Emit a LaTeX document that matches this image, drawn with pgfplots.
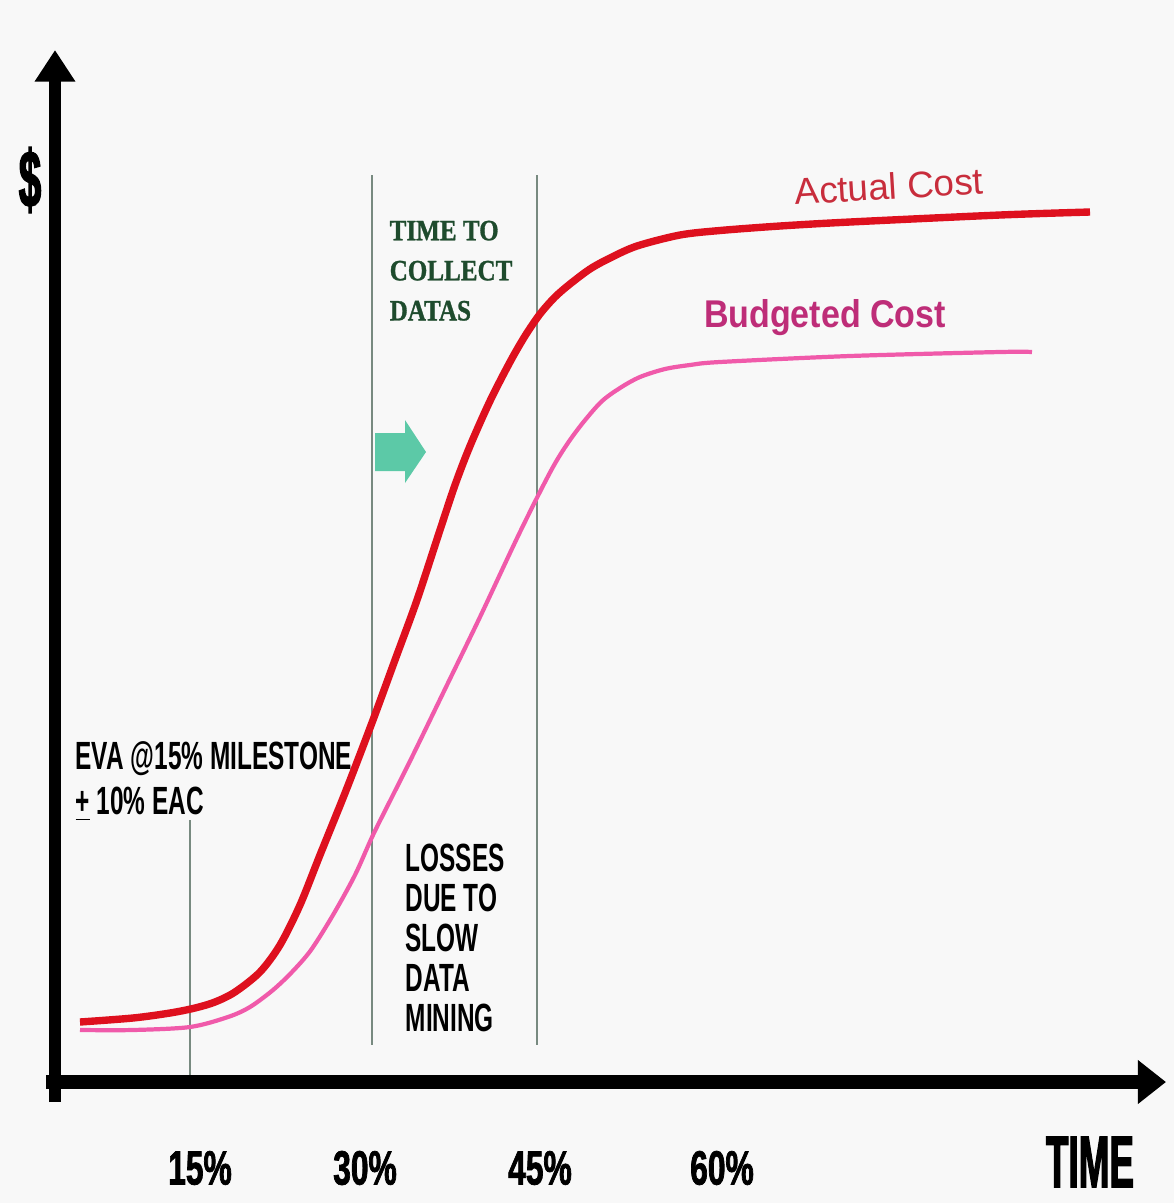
\documentclass[border=0pt]{standalone}
\usepackage{pgfplots}
\pgfplotsset{compat=1.18}
\usepackage{fontspec}
\setmainfont{Liberation Sans}
\newfontfamily\cond[FakeStretch=0.62]{Liberation Sans}
\newfontfamily\heavy[FakeStretch=0.66,FakeBold=1.5]{Liberation Sans}
\newfontfamily\condx[FakeStretch=0.5,FakeBold=1.5]{Liberation Sans}
\newfontfamily\serifc[FakeStretch=0.85,FakeBold=1]{Liberation Serif}
\newfontfamily\sansc[FakeStretch=0.88]{Liberation Sans}
\usetikzlibrary{arrows.meta}
\definecolor{actual}{RGB}{222,16,30}
\definecolor{budget}{RGB}{240,90,170}
\definecolor{budtext}{RGB}{190,45,120}
\definecolor{acttext}{RGB}{200,45,60}
\definecolor{guide}{RGB}{120,138,128}
\definecolor{darkgreen}{RGB}{30,75,45}
\definecolor{arrowgreen}{RGB}{92,201,167}
\definecolor{paper}{RGB}{248,248,248}

% curves, in pixel coordinates (y downwards)
\pgfplotstableread{
x y
80 1022
133 1018
170 1013
195 1008
215 1002
235 992
260 972
280 945
300 905
320 855
347 788
373 720
395 660
417 600
440 530
455 485
470 446
490 401
510 362
525 336
540 314
555 297
570 284
590 269
610 258
637 246
680 235
720 230.5
780 226
850 222
1000 215
1090 212
}\actualcost
\pgfplotstableread{
x y
80 1030
133 1030
190 1027
228 1017
250 1007
273 990
292 972
311 950
333 915
355 875
373 835
393 795
413 755
447 685
480 617
520 532
553 467
575 433
600 403
620 388
640 377
665 369
690 365
720 362
850 356
1000 352
1032 352
}\budgetcost

\begin{document}
\begin{tikzpicture}
\begin{axis}[
    scale only axis,
    width=11.74cm, height=12.03cm,
    xmin=0, xmax=1174, ymin=0, ymax=1203,
    y dir=reverse,
    hide axis, clip=false
]
\fill[paper] (axis cs:0,0) rectangle (axis cs:1174,1203);
\coordinate (bl) at (axis cs:0,1203);
\coordinate (tr) at (axis cs:1174,0);

% guide lines
\draw[guide, line width=0.5pt] (axis cs:190,820) -- (axis cs:190,1075);
\draw[guide, line width=0.5pt] (axis cs:372,175) -- (axis cs:372,1045);
\draw[guide, line width=0.5pt] (axis cs:537,175) -- (axis cs:537,1045);

% axes
\draw[line width=3.4pt, -{Triangle[length=9pt,width=11pt]}] (axis cs:55,1102) -- (axis cs:55,50);
\draw[line width=4pt, -{Triangle[length=8pt,width=12pt]}] (axis cs:46,1082) -- (axis cs:1166,1082);

\addplot[actual, line width=2.1pt, smooth] table {\actualcost};
\addplot[budget, line width=1.2pt, smooth] table {\budgetcost};

% green arrow
\fill[arrowgreen] (axis cs:375,433) -- (axis cs:405,433) -- (axis cs:405,420)
  -- (axis cs:426,452) -- (axis cs:405,483) -- (axis cs:405,471) -- (axis cs:375,471) -- cycle;

% labels
\node[font=\condx\bfseries\fontsize{23}{23}\selectfont] at (axis cs:30,180) {\$};
\node[font=\heavy\bfseries\fontsize{13.7}{14}\selectfont] at (axis cs:200,1168) {15\%};
\node[font=\heavy\bfseries\fontsize{13.7}{14}\selectfont] at (axis cs:365,1168) {30\%};
\node[font=\heavy\bfseries\fontsize{13.7}{14}\selectfont] at (axis cs:540,1168) {45\%};
\node[font=\heavy\bfseries\fontsize{13.7}{14}\selectfont] at (axis cs:722,1168) {60\%};
\node[font=\condx\bfseries\fontsize{21}{21}\selectfont] at (axis cs:1090,1162) {TIME};

\node[anchor=north west, inner sep=0pt, align=left,
      font=\cond\bfseries\fontsize{11.2}{12.8}\selectfont] at (axis cs:75,741)
  {EVA @15\% MILESTONE\\\underline{+} 10\% EAC};
\node[anchor=north west, inner sep=0pt, align=left,
      font=\cond\bfseries\fontsize{11.2}{11.4}\selectfont] at (axis cs:405,843)
  {LOSSES\\DUE TO\\SLOW\\DATA\\MINING};
\node[anchor=north west, inner sep=0pt, align=left, text=darkgreen,
      font=\serifc\bfseries\fontsize{8.4}{11.4}\selectfont] at (axis cs:389,220)
  {TIME TO\\COLLECT\\DATAS};
\node[text=acttext, rotate=3.5, font=\fontsize{10.5}{11}\selectfont] at (axis cs:889,186) {Actual Cost};
\node[text=budtext, font=\sansc\bfseries\fontsize{11}{11}\selectfont] at (axis cs:825,318) {Budgeted Cost};
\end{axis}
\pgfresetboundingbox
\path[use as bounding box] (bl) rectangle (tr);
\end{tikzpicture}
\end{document}
